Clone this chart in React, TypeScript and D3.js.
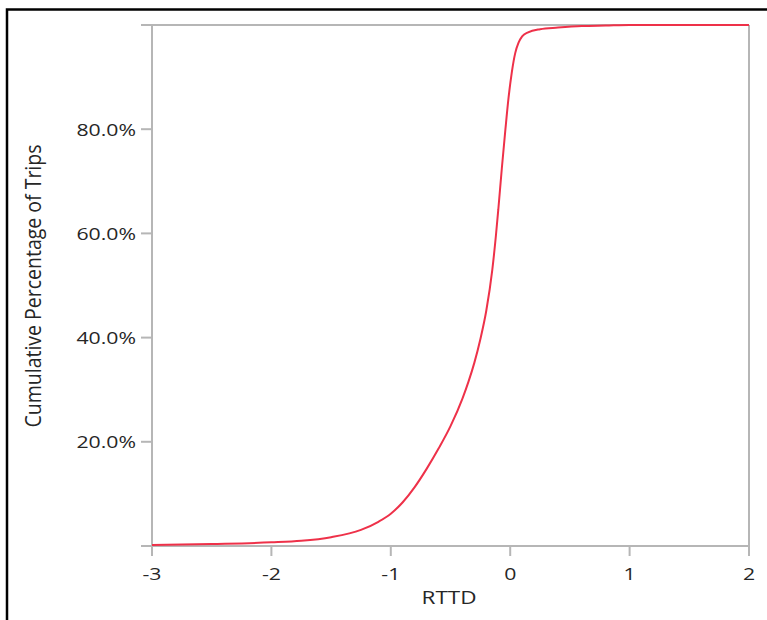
import React from "react";
import * as d3 from "d3";

// Cumulative distribution of RTTD across trips
const rttd = [
  -3, -2.5, -2, -1.75, -1.5, -1.25, -1.1, -1.0, -0.9, -0.8, -0.7, -0.6, -0.5,
  -0.4, -0.35, -0.3, -0.25, -0.2, -0.15, -0.12, -0.1, -0.07, -0.04, -0.014,
  0.014, 0.042, 0.07, 0.1, 0.15, 0.25, 0.4, 0.6, 0.8, 1.0, 2.0,
];
const cumShare = [
  0.002, 0.004, 0.007, 0.01, 0.017, 0.031, 0.047, 0.062, 0.084, 0.113, 0.148,
  0.187, 0.23, 0.283, 0.315, 0.352, 0.397, 0.452, 0.53, 0.595, 0.645, 0.725,
  0.8, 0.86, 0.91, 0.946, 0.966, 0.978, 0.986, 0.992, 0.995, 0.998, 0.999,
  1.0, 1.0,
];
const xTicks = [-3, -2, -1, 0, 1, 2];
const yTicks = [0, 0.2, 0.4, 0.6, 0.8, 1.0];
const yLabelled = [0.2, 0.4, 0.6, 0.8];

const W = 767;
const H = 620;
const left = 152;
const right = 749;
const top = 25;
const bottom = 546;
const axisColor = "#b6b6b6";
const textColor = "#262626";
const lineColor = "#ee3149";
const font = "'Open Sans', 'Noto Sans', sans-serif";
const stretch = 1.25;

export default function App() {
  const x = d3.scaleLinear().domain([-3, 2]).range([left, right]);
  const y = d3.scaleLinear().domain([0, 1]).range([bottom, top]);
  const pts = rttd.map((v, i) => [v, cumShare[i]] as [number, number]);
  const path = d3
    .line<[number, number]>()
    .x((d) => x(d[0]))
    .y((d) => y(d[1]))
    .curve(d3.curveMonotoneX)(pts) as string;
  const pct = d3.format(".1%");

  return (
    <svg
      width={W}
      height={H}
      style={{ position: "fixed", left: 0, top: 0, background: "#fff" }}
      fontFamily={font}
    >
      <rect x={0} y={0} width={W} height={H} fill="#fff" />
      {/* outer frame */}
      <rect x={7} y={9.5} width={W + 20} height={H + 20} fill="none" stroke="#000" strokeWidth={2.5} />

      {/* y ticks */}
      {yTicks.map((t) => (
        <line key={"yt" + t} x1={141} x2={left} y1={y(t)} y2={y(t)} stroke={axisColor} strokeWidth={2} />
      ))}
      {/* x ticks */}
      {xTicks.map((t) => (
        <line key={"xt" + t} x1={x(t)} x2={x(t)} y1={bottom} y2={bottom + 10} stroke={axisColor} strokeWidth={2} />
      ))}
      {/* frame lines */}
      <line x1={left} x2={right} y1={top} y2={top} stroke={axisColor} strokeWidth={2} />
      <line x1={left} x2={right} y1={bottom} y2={bottom} stroke={axisColor} strokeWidth={2} />
      <line x1={left} x2={left} y1={top} y2={bottom} stroke={axisColor} strokeWidth={2} />
      <line x1={right} x2={right} y1={top} y2={bottom + 10} stroke={axisColor} strokeWidth={2} />

      {/* curve */}
      <path d={path} fill="none" stroke={lineColor} strokeWidth={2} />

      {/* y labels */}
      {yLabelled.map((t) => (
        <text
          key={"yl" + t}
          transform={`translate(136,${y(t) + 6.5}) scale(${stretch},1)`}
          textAnchor="end"
          fontSize={17}
          fill={textColor}
        >
          {pct(t)}
        </text>
      ))}
      {/* x labels */}
      {xTicks.map((t) => (
        <text
          key={"xl" + t}
          transform={`translate(${x(t)},580) scale(${stretch},1)`}
          textAnchor="middle"
          fontSize={17}
          fill={textColor}
        >
          {d3.format("")(t).replace("−", "-")}
        </text>
      ))}

      {/* axis titles */}
      <text
        transform={`translate(449,604) scale(${stretch},1)`}
        textAnchor="middle"
        fontSize={18}
        fill={textColor}
      >
        RTTD
      </text>
      <text
        transform={`translate(41,286) scale(1.1,1) rotate(-90)`}
        textAnchor="middle"
        fontSize={19.5}
        fill={textColor}
      >
        Cumulative Percentage of Trips
      </text>
    </svg>
  );
}
